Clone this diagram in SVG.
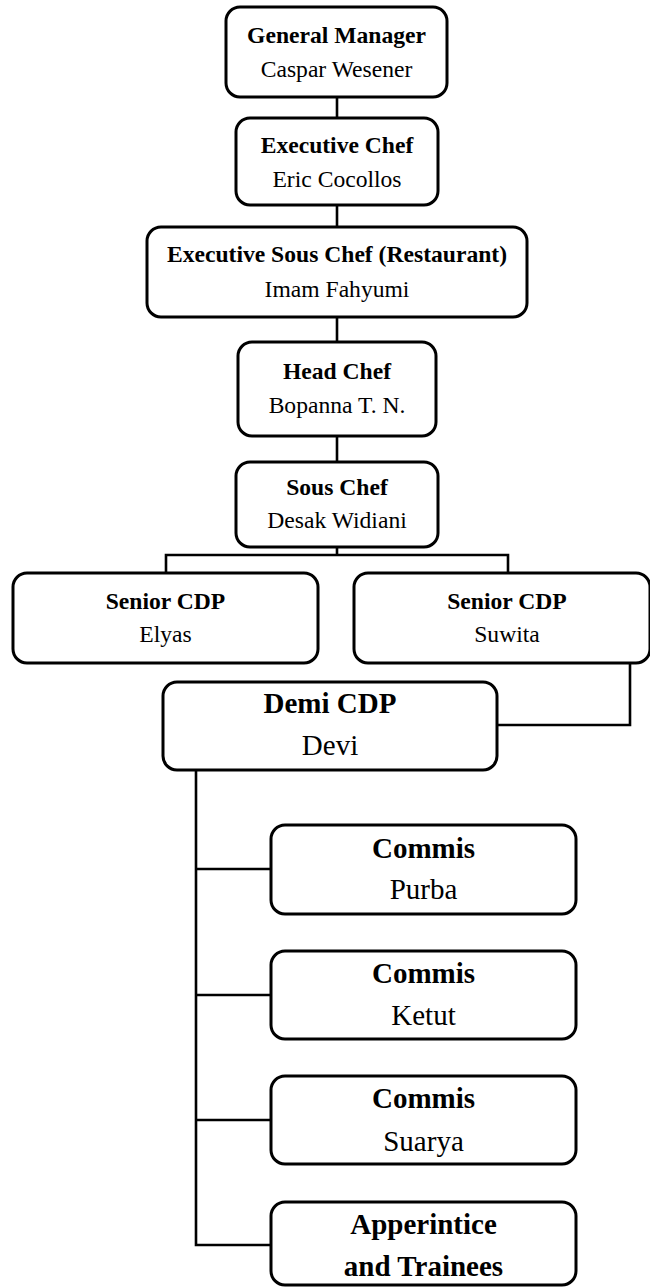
<svg xmlns="http://www.w3.org/2000/svg" width="650" height="1287" viewBox="0 0 650 1287">
<style>
.box{fill:#fff;stroke:#000;stroke-width:3}
.ln{fill:none;stroke:#000;stroke-width:2.6}
text{font-family:"Liberation Serif","Times New Roman",serif;text-anchor:middle;fill:#000}
.t{font-weight:bold;font-size:23.6px}
.n{font-size:23.6px}
.tb{font-weight:bold;font-size:29px}
.nb{font-size:29px}
</style>
<rect width="650" height="1287" fill="#fff"/>
<g id="connectors">
<path class="ln" d="M337 97V118M337 205V227M337 317V342M337 436V462M337 547V555M166 573V555H508V573"/>
<path class="ln" d="M630 663V725H497"/>
<path class="ln" d="M196 770V1245H271M196 869H271M196 995H271M196 1120H271"/>
</g>
<g id="gm"><rect class="box" x="226" y="7" width="221" height="90" rx="14"/><text class="t" x="336.5" y="43">General Manager</text><text class="n" x="336.5" y="77">Caspar Wesener</text></g>
<g id="ec"><rect class="box" x="236" y="118" width="202" height="87" rx="14"/><text class="t" x="337" y="153">Executive Chef</text><text class="n" x="337" y="187">Eric Cocollos</text></g>
<g id="esc"><rect class="box" x="147" y="227" width="380" height="90" rx="14"/><text class="t" x="337" y="262">Executive Sous Chef (Restaurant)</text><text class="n" x="337" y="297">Imam Fahyumi</text></g>
<g id="hc"><rect class="box" x="238" y="342" width="198" height="94" rx="14"/><text class="t" x="337" y="379">Head Chef</text><text class="n" x="337" y="413">Bopanna T. N.</text></g>
<g id="sc"><rect class="box" x="236" y="462" width="202" height="85" rx="14"/><text class="t" x="337" y="495">Sous Chef</text><text class="n" x="337" y="528">Desak Widiani</text></g>
<g id="scdp1"><rect class="box" x="13" y="573" width="305" height="90" rx="14"/><text class="t" x="165.5" y="609">Senior CDP</text><text class="n" x="165.5" y="642">Elyas</text></g>
<g id="scdp2"><rect class="box" x="354" y="573" width="296" height="90" rx="14"/><text class="t" x="507" y="609">Senior CDP</text><text class="n" x="507" y="642">Suwita</text></g>
<g id="demi"><rect class="box" x="163" y="682" width="334" height="88" rx="14"/><text class="tb" x="330" y="713">Demi CDP</text><text class="nb" x="330" y="755">Devi</text></g>
<g id="c1"><rect class="box" x="271" y="825" width="305" height="89" rx="14"/><text class="tb" x="423.5" y="858">Commis</text><text class="nb" x="423.5" y="899">Purba</text></g>
<g id="c2"><rect class="box" x="271" y="951" width="305" height="88" rx="14"/><text class="tb" x="423.5" y="983">Commis</text><text class="nb" x="423.5" y="1025">Ketut</text></g>
<g id="c3"><rect class="box" x="271" y="1076" width="305" height="88" rx="14"/><text class="tb" x="423.5" y="1108">Commis</text><text class="nb" x="423.5" y="1151">Suarya</text></g>
<g id="app"><rect class="box" x="271" y="1202" width="305" height="83" rx="14"/><text class="tb" x="423.5" y="1234">Apperintice</text><text class="tb" x="423.5" y="1276">and Trainees</text></g>
</svg>
